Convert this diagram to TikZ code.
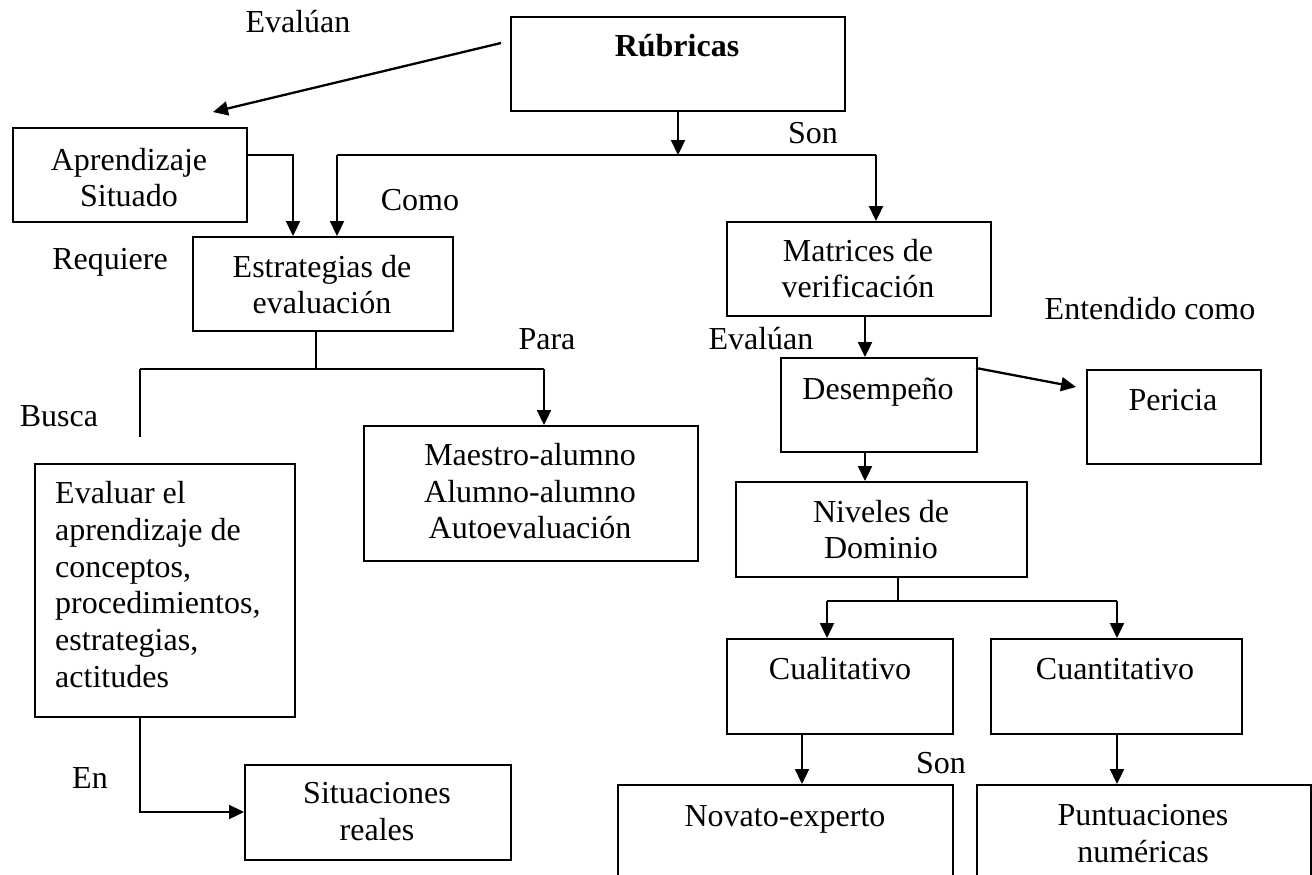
\documentclass[tikz,border=0pt]{standalone}
\usepackage{fontspec}
\setmainfont{Liberation Serif}
\usetikzlibrary{arrows.meta}
\begin{document}
\begin{tikzpicture}[x=1pt,y=-1pt,
  box/.style={draw, line width=2.3pt, inner sep=0pt, anchor=north west},
  lbl/.style={inner sep=0pt, anchor=base, font=\fontsize{32}{37}\selectfont},
  lbw/.style={inner sep=0pt, anchor=base west, font=\fontsize{32}{37}\selectfont},
  con/.style={line width=2.3pt},
  arr/.style={line width=2.3pt, -{Triangle[length=15pt,width=14pt]}}]
\useasboundingbox (0,0) rectangle (1312,875);
\clip (0,0) rectangle (1312,875);
% boxes
\node[box, minimum width=334pt, minimum height=94pt] (rub) at (510,16) {};
\node[box, minimum width=234pt, minimum height=94pt] (ap) at (12,127) {};
\node[box, minimum width=260pt, minimum height=94pt] (est) at (192,236) {};
\node[box, minimum width=264pt, minimum height=94pt] (mat) at (726,221) {};
\node[box, minimum width=196pt, minimum height=94pt] (des) at (780,357) {};
\node[box, minimum width=174pt, minimum height=94pt] (per) at (1086,369) {};
\node[box, minimum width=334pt, minimum height=135pt] (mae) at (363,425) {};
\node[box, minimum width=260pt, minimum height=253pt] (eva) at (34,463) {};
\node[box, minimum width=291pt, minimum height=95pt] (niv) at (735,481) {};
\node[box, minimum width=226pt, minimum height=95pt] (cual) at (726,638) {};
\node[box, minimum width=251pt, minimum height=95pt] (cuan) at (990,638) {};
\node[box, minimum width=266pt, minimum height=95pt] (sit) at (244,764) {};
\node[box, minimum width=335pt, minimum height=130pt] (nov) at (617,784) {};
\node[box, minimum width=334pt, minimum height=130pt] (pun) at (976,784) {};
% box texts
\node[lbl] (trub) at (677,57) {\bfseries Rúbricas};
\node[lbl] (tap1) at (129,170) {Aprendizaje};
\node[lbl] (tap2) at (129,206) {Situado};
\node[lbl] (test1) at (322,277) {Estrategias de};
\node[lbl] (test2) at (322,313) {evaluación};
\node[lbl] (tmat1) at (858,261) {Matrices de};
\node[lbl] (tmat2) at (858,297) {verificación};
\node[lbl] (tdes) at (878,399) {Desempeño};
\node[lbl] (tper) at (1173,410) {Pericia};
\node[lbl] (tmae1) at (530,465) {Maestro-alumno};
\node[lbl] (tmae2) at (530,502) {Alumno-alumno};
\node[lbl] (tmae3) at (530,538) {Autoevaluación};
\node[lbw] (teva1) at (55,503) {Evaluar el};
\node[lbw] (teva2) at (55,540) {aprendizaje de};
\node[lbw] (teva3) at (55,577) {conceptos,};
\node[lbw] (teva4) at (55,613) {procedimientos,};
\node[lbw] (teva5) at (55,650) {estrategias,};
\node[lbw] (teva6) at (55,687) {actitudes};
\node[lbl] (tniv1) at (881,522) {Niveles de};
\node[lbl] (tniv2) at (881,558) {Dominio};
\node[lbl] (tcual) at (840,679) {Cualitativo};
\node[lbl] (tcuan) at (1115,679) {Cuantitativo};
\node[lbl] (tsit1) at (377,803) {Situaciones};
\node[lbl] (tsit2) at (377,840) {reales};
\node[lbl] (tnov) at (785,826) {Novato-experto};
\node[lbl] (tpun1) at (1143,825) {Puntuaciones};
\node[lbl] (tpun2) at (1143,862) {numéricas};
% connector labels
\node[lbl] (lev1) at (298,33) {Evalúan};
\node[lbl] (lson1) at (813,143) {Son};
\node[lbl] (lcomo) at (420,210) {Como};
\node[lbl] (lreq) at (110,269) {Requiere};
\node[lbl] (lpara) at (547,349) {Para};
\node[lbl] (lbus) at (59,426) {Busca};
\node[lbl] (lev2) at (761,349) {Evalúan};
\node[lbl] (lent) at (1150,319) {Entendido como};
\node[lbl] (len) at (90,788) {En};
\node[lbl] (lson2) at (941,773) {Son};
% coordinates
\coordinate (ev1) at (501,43);
\coordinate (ev2) at (213,112);
\coordinate (j1) at (678,155);
\coordinate (jL) at (337,155);
\coordinate (jR) at (876,155);
\coordinate (a1) at (293,155);
\coordinate (j2) at (316,369);
\coordinate (j2l) at (140,369);
\coordinate (j2r) at (544,369);
\coordinate (bend) at (140,437);
\coordinate (m1) at (865,0);
\coordinate (dp1) at (976,368);
\coordinate (dp2) at (1076,387);
\coordinate (n1) at (898,601);
\coordinate (nl) at (827,601);
\coordinate (nr) at (1117,601);
\coordinate (c1) at (802,0);
\coordinate (e1) at (140,812);
% connectors
\draw[arr] (ev1) -- (ev2);
\draw[arr] (rub.south -| j1) -- (j1);
\draw[con] (jL) -- (jR);
\draw[arr] (jL) -- (jL |- est.north);
\draw[arr] (jR) -- (jR |- mat.north);
\draw[arr] (ap.east |- a1) -- (a1) -- (a1 |- est.north);
\draw[con] (j2 |- est.south) -- (j2);
\draw[con] (j2l) -- (j2r);
\draw[arr] (j2r) -- (j2r |- mae.north);
\draw[con] (j2l) -- (bend);
\draw[arr] (m1 |- mat.south) -- (m1 |- des.north);
\draw[arr] (dp1) -- (dp2);
\draw[arr] (m1 |- des.south) -- (m1 |- niv.north);
\draw[con] (n1 |- niv.south) -- (n1);
\draw[con] (nl) -- (nr);
\draw[arr] (nl) -- (nl |- cual.north);
\draw[arr] (nr) -- (nr |- cuan.north);
\draw[arr] (c1 |- cual.south) -- (c1 |- nov.north);
\draw[arr] (nr |- cuan.south) -- (nr |- pun.north);
\draw[arr] (e1 |- eva.south) -- (e1) -- (sit.west |- e1);
\end{tikzpicture}
\end{document}
